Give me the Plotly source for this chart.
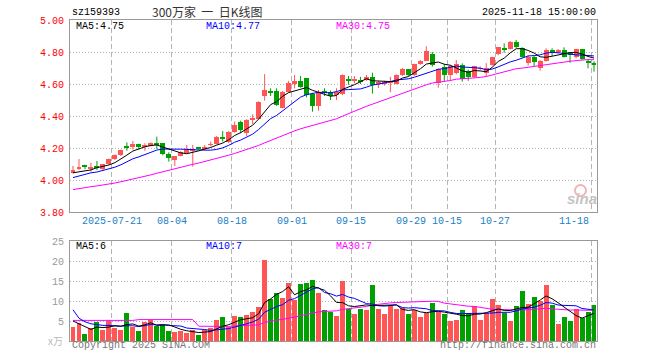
import plotly.graph_objects as go
import pandas as pd

# ---------------- data ----------------
_days = pd.bdate_range("2025-07-10", "2025-11-18")
_days = [d for d in _days if not (pd.Timestamp("2025-10-01") <= d <= pd.Timestamp("2025-10-08"))]
dates = [d.strftime("%Y-%m-%d") for d in _days]

opens = [4.042, 4.071, 4.087, 4.071, 4.083, 4.071, 4.098, 4.129, 4.156, 4.209,
         4.204, 4.225, 4.210, 4.217, 4.225, 4.229, 4.160, 4.125, 4.150, 4.171,
         4.183, 4.198, 4.192, 4.219, 4.225, 4.262, 4.240, 4.298, 4.360, 4.296,
         4.379, 4.383, 4.525, 4.552, 4.556, 4.450, 4.550, 4.600, 4.619, 4.635,
         4.535, 4.465, 4.550, 4.548, 4.531, 4.535, 4.625, 4.622, 4.622, 4.625,
         4.644, 4.602, 4.606, 4.612, 4.600, 4.656, 4.692, 4.656, 4.723, 4.746,
         4.790, 4.608, 4.708, 4.656, 4.667, 4.719, 4.681, 4.646, 4.694, 4.671,
         4.719, 4.787, 4.821, 4.819, 4.860, 4.823, 4.733, 4.767, 4.698, 4.744,
         4.810, 4.806, 4.812, 4.790, 4.767, 4.817, 4.740, 4.727]
highs = [4.088, 4.131, 4.096, 4.108, 4.119, 4.100, 4.135, 4.160, 4.190, 4.235,
         4.244, 4.227, 4.230, 4.235, 4.271, 4.230, 4.173, 4.150, 4.180, 4.219,
         4.219, 4.205, 4.219, 4.240, 4.275, 4.306, 4.306, 4.365, 4.371, 4.380,
         4.410, 4.492, 4.662, 4.573, 4.573, 4.556, 4.620, 4.656, 4.650, 4.636,
         4.545, 4.562, 4.573, 4.560, 4.573, 4.660, 4.650, 4.650, 4.645, 4.656,
         4.671, 4.620, 4.620, 4.645, 4.660, 4.700, 4.694, 4.727, 4.750, 4.836,
         4.800, 4.698, 4.725, 4.720, 4.750, 4.729, 4.690, 4.714, 4.710, 4.730,
         4.770, 4.831, 4.854, 4.869, 4.875, 4.830, 4.780, 4.775, 4.750, 4.823,
         4.823, 4.818, 4.829, 4.800, 4.820, 4.819, 4.752, 4.742]
lows = [4.040, 4.062, 4.067, 4.052, 4.062, 4.060, 4.095, 4.125, 4.150, 4.183,
        4.190, 4.190, 4.183, 4.210, 4.194, 4.154, 4.115, 4.087, 4.148, 4.165,
        4.083, 4.190, 4.183, 4.210, 4.222, 4.240, 4.230, 4.295, 4.292, 4.275,
        4.350, 4.380, 4.496, 4.525, 4.462, 4.448, 4.548, 4.573, 4.577, 4.517,
        4.427, 4.433, 4.525, 4.500, 4.500, 4.530, 4.595, 4.605, 4.600, 4.620,
        4.540, 4.575, 4.590, 4.548, 4.598, 4.650, 4.650, 4.650, 4.720, 4.744,
        4.708, 4.577, 4.615, 4.620, 4.660, 4.615, 4.620, 4.640, 4.685, 4.646,
        4.715, 4.780, 4.796, 4.815, 4.825, 4.765, 4.715, 4.713, 4.683, 4.740,
        4.775, 4.790, 4.765, 4.733, 4.760, 4.750, 4.698, 4.677]
closes = [4.062, 4.083, 4.083, 4.080, 4.077, 4.098, 4.131, 4.156, 4.188, 4.205,
          4.225, 4.204, 4.215, 4.229, 4.221, 4.160, 4.140, 4.150, 4.177, 4.194,
          4.194, 4.196, 4.208, 4.225, 4.267, 4.258, 4.298, 4.344, 4.313, 4.375,
          4.383, 4.488, 4.562, 4.548, 4.467, 4.550, 4.604, 4.620, 4.583, 4.531,
          4.465, 4.552, 4.546, 4.525, 4.552, 4.656, 4.621, 4.625, 4.618, 4.644,
          4.594, 4.610, 4.610, 4.618, 4.656, 4.692, 4.656, 4.725, 4.744, 4.806,
          4.720, 4.692, 4.656, 4.712, 4.723, 4.629, 4.646, 4.712, 4.698, 4.698,
          4.767, 4.829, 4.817, 4.860, 4.829, 4.771, 4.771, 4.735, 4.744, 4.812,
          4.806, 4.810, 4.771, 4.785, 4.817, 4.754, 4.733, 4.722]
volumes = [3.4, 4.4, 1.7, 3.2, 4.75, 2.7, 5.1, 3.2, 2.7, 6.9,
           3.4, 2.4, 4.8, 5.3, 3.7, 3.9, 2.4, 2.2, 2.4, 1.9,
           2.7, 1.4, 2.7, 3.2, 5.2, 5.9, 3.4, 6.2, 5.9, 6.4,
           7.2, 8.4, 20.2, 10.4, 12.1, 10.7, 14.4, 10.2, 14.2, 14.4,
           15.2, 11.9, 7.7, 7.3, 6.2, 14.9, 7.9, 6.75, 7.9, 7.7,
           13.9, 7.9, 6.75, 8.7, 7.9, 8.2, 6.7, 7.7, 5.9, 6.9,
           9.4, 7.2, 6.7, 5.0, 5.2, 7.7, 6.9, 8.7, 5.2, 6.9,
           10.4, 8.9, 6.9, 5.0, 8.7, 12.4, 9.2, 10.9, 9.9, 13.9,
           8.9, 4.2, 5.9, 4.9, 7.9, 5.7, 7.2, 8.9]

# moving-average values at the window start (they depend on days before the chart)
ma5_head = [4.045, 4.050, 4.057, 4.063]
ma10_head = [4.015, 4.025, 4.035, 4.045, 4.050, 4.060, 4.070, 4.080, 4.095]
ma30_head = [3.940, 3.947, 3.953, 3.958, 3.963, 3.968, 3.974, 3.981, 3.989, 3.997,
             4.005, 4.014, 4.023, 4.032, 4.042, 4.052, 4.062, 4.071, 4.080, 4.089,
             4.098, 4.106, 4.115, 4.124, 4.134, 4.144, 4.155, 4.166, 4.178]
vma5_head = [5.0, 4.3, 3.4, 2.9]
vma10_head = [7.8, 5.7, 4.8, 4.3, 4.1, 3.9, 3.9, 3.8, 3.7]
vma30_head = [5.15] * 11 + [5.35] * 10 + [3.7, 3.65, 3.65, 3.65, 3.65, 3.65, 3.7, 3.75]

price_ticks = [3.80, 4.00, 4.20, 4.40, 4.60, 4.80, 5.00]
vol_ticks = [5, 10, 15, 20, 25]
date_labels = ["2025-07-21", "2025-08-04", "2025-08-18", "2025-09-01", "2025-09-15",
               "2025-09-29", "2025-10-15", "2025-10-27", "2025-11-18"]

title_code = "sz159393"
title_name = "300万家\u00a0\u00a0一\u00a0\u00a0日K线图"
timestamp = "2025-11-18 15:00:00"
price_legend = ["MA5:4.75", "MA10:4.77", "MA30:4.75"]
vol_legend = ["MA5:6", "MA10:7", "MA30:7"]

# ---------------- helpers ----------------
def moving_avg(vals, n, head):
    out = list(head)
    for i in range(len(head), len(vals)):
        out.append(sum(vals[i - n + 1:i + 1]) / n)
    return out

RED = "#ff5555"
GREEN = "#00a000"
MONO = "Liberation Mono"

n = len(closes)
idx = list(range(n))
up = [c >= o for o, c in zip(opens, closes)]
colors = [RED if u else GREEN for u in up]
body_base = [min(o, c) for o, c in zip(opens, closes)]
body_h = [max(abs(c - o), 0.005) for o, c in zip(opens, closes)]

wx = {True: [], False: []}
wy = {True: [], False: []}
for i in idx:
    wx[up[i]] += [i, i, None]
    wy[up[i]] += [lows[i], highs[i], None]

fig = go.Figure()
for flag, col in [(True, RED), (False, GREEN)]:
    fig.add_trace(go.Scatter(x=wx[flag], y=wy[flag], mode="lines",
                             line=dict(color=col, width=1), hoverinfo="skip",
                             xaxis="x", yaxis="y", showlegend=False))
fig.add_trace(go.Bar(x=idx, y=body_h, base=body_base, width=0.83,
                     marker=dict(color=colors, line=dict(width=0)),
                     xaxis="x", yaxis="y", showlegend=False))
for vals, nn, head, col in [(closes, 30, ma30_head, "#ff00ff"),
                            (closes, 10, ma10_head, "#0000ff"),
                            (closes, 5, ma5_head, "#000000")]:
    fig.add_trace(go.Scatter(x=idx, y=moving_avg(vals, nn, head), mode="lines",
                             line=dict(color=col, width=1), xaxis="x", yaxis="y",
                             showlegend=False, hoverinfo="skip"))

fig.add_trace(go.Bar(x=idx, y=volumes, width=0.83,
                     marker=dict(color=colors, line=dict(width=0)),
                     xaxis="x2", yaxis="y2", showlegend=False))
for vals, nn, head, col in [(volumes, 30, vma30_head, "#ff00ff"),
                            (volumes, 10, vma10_head, "#0000ff"),
                            (volumes, 5, vma5_head, "#000000")]:
    fig.add_trace(go.Scatter(x=idx, y=moving_avg(vals, nn, head), mode="lines",
                             line=dict(color=col, width=1), xaxis="x2", yaxis="y2",
                             showlegend=False, hoverinfo="skip"))

# ---------------- layout ----------------
L, R, T, B = 70, 597, 20, 341
W, H = 660, 360
def xp(px):
    return (px - L) / (R - L)
def yp(py):
    return (B - py) / (B - T)

tick_pos = [dates.index(d) - 0.5 for d in date_labels]
xcommon = dict(range=[-0.5, n - 0.5], tickvals=tick_pos, showticklabels=False,
               showgrid=True, gridcolor="#b4b4b4", gridwidth=1, griddash="5px,3px",
               showline=True, mirror=True, linecolor="#999999", linewidth=1,
               zeroline=False, ticks="")

fig.update_layout(
    width=W, height=H,
    margin=dict(l=L, r=W - R, t=T, b=H - B, pad=0),
    paper_bgcolor="white", plot_bgcolor="white",
    barmode="overlay", bargap=0, hovermode=False,
    xaxis=dict(anchor="y", **xcommon),
    xaxis2=dict(anchor="y2", matches="x", **xcommon),
    yaxis=dict(domain=[yp(212), 1], range=[3.8, 5.0], tickvals=price_ticks,
               ticktext=[f"{v:.2f}" for v in price_ticks],
               tickfont=dict(family=MONO, size=10, color="#ff0000"),
               showgrid=True, gridcolor="#b4b4b4", griddash="1px,2px",
               showline=True, mirror=True, linecolor="#999999", linewidth=1,
               zeroline=False, ticks="outside", ticklen=3, tickcolor="rgba(0,0,0,0)"),
    yaxis2=dict(domain=[0, yp(241)], range=[0, 25], tickvals=vol_ticks,
                ticktext=[str(v) for v in vol_ticks],
                tickfont=dict(family=MONO, size=10, color="#999999"),
                showgrid=True, gridcolor="#b4b4b4", griddash="1px,2px",
                showline=True, mirror=True, linecolor="#999999", linewidth=1,
                zeroline=False, ticks="outside", ticklen=3, tickcolor="rgba(0,0,0,0)"),
)

ann = []
def text(s, px, py, anchor="left", color="#000", size=10, family=MONO, **kw):
    ann.append(dict(text=s, x=xp(px), y=yp(py), xref="paper", yref="paper",
                    xanchor=anchor, yanchor="middle", showarrow=False,
                    font=dict(family=family, size=size, color=color), **kw))

text(title_code, 70, 12)
text(title_name, 150, 11, color="#333333", size=12, family="Noto Sans CJK SC")
text(timestamp, 598, 12, anchor="right")
for s, px, col in zip(price_legend, [74, 204, 334], ["#000000", "#0000ff", "#ff00ff"]):
    text(s, px, 26.5, color=col)
for s, px, col in zip(vol_legend, [74, 204, 334], ["#000000", "#0000ff", "#ff00ff"]):
    text(s, px, 246.5, color=col)

for k, d in enumerate(date_labels):
    lab = d if k == 0 else d[5:]
    i = dates.index(d)
    anchor = "right" if k == len(date_labels) - 1 else "center"
    ann.append(dict(text=lab, x=i - 0.5, xref="x", y=yp(221.5), yref="paper",
                    xanchor=anchor, yanchor="middle", showarrow=False,
                    font=dict(family=MONO, size=10, color="#2080c8")))

text("x万", 65, 340, anchor="right", color="#bbbbbb", size=10, family="Noto Sans CJK SC")
text("Copyright 2025 SINA.COM", 70, 346, color="#777777")
text("http://finance.sina.com.cn", 598, 346, anchor="right", color="#777777")
text("<b><i>sina</i></b>", 582, 199, anchor="center", color="#c4c4c4", size=15,
     family="Liberation Sans")
fig.update_layout(annotations=ann)

fig.add_shape(type="circle", xref="paper", yref="paper",
              x0=xp(575), x1=xp(586), y0=yp(196), y1=yp(185),
              line=dict(color="#f3b4b4", width=2), fillcolor="rgba(0,0,0,0)")

fig.write_html("out.html", config={"displayModeBar": False},
               post_script="document.body.style.margin='0';")
